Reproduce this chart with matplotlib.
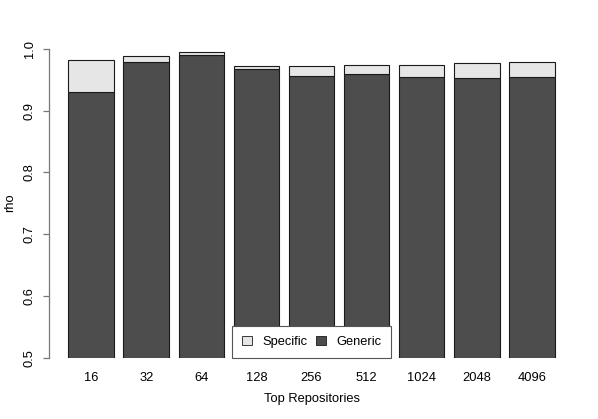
import numpy as np
import matplotlib.pyplot as plt

plt.rcParams['font.family'] = ['Liberation Sans', 'DejaVu Sans']

# data
repos = ['16', '32', '64', '128', '256', '512', '1024', '2048', '4096']
generic = [0.931, 0.979, 0.990, 0.968, 0.957, 0.960, 0.955, 0.953, 0.954]
total = [0.982, 0.989, 0.995, 0.973, 0.972, 0.974, 0.974, 0.977, 0.979]
specific = [t - g for t, g in zip(total, generic)]

GENERIC_COLOR = '#4d4d4d'
SPECIFIC_COLOR = '#e6e6e6'
EDGE = '#1a1a1a'

fig = plt.figure(figsize=(5.98, 4.19), dpi=100)
ax = fig.add_axes([49 / 598, 61.3 / 419, (574 - 49) / 598, (357.7 - 49) / 419])

# R-style barplot positions: width 1, space 0.2
x = 0.7 + 1.2 * np.arange(len(repos))
ax.bar(x, generic, width=1.0, color=GENERIC_COLOR, edgecolor=EDGE, linewidth=0.8)
ax.bar(x, specific, width=1.0, bottom=generic, color=SPECIFIC_COLOR,
       edgecolor=EDGE, linewidth=0.8)

ax.set_xlim(-0.224, 11.224)
ax.set_ylim(0.5, 1.0)

for side in ('top', 'right', 'bottom'):
    ax.spines[side].set_visible(False)
ax.spines['left'].set_position(('data', -0.224))
ax.spines['left'].set_color('#777777')
ax.spines['left'].set_linewidth(0.9)

ax.set_yticks([0.5, 0.6, 0.7, 0.8, 0.9, 1.0])
ax.set_yticklabels(['0.5', '0.6', '0.7', '0.8', '0.9', '1.0'])
ax.tick_params(axis='y', length=4.5, width=0.9, color='#777777', pad=5,
               labelsize=9.3, labelrotation=90)
for lab in ax.get_yticklabels():
    lab.set_va('center')

ax.set_xticks(x)
ax.set_xticklabels(repos)
ax.tick_params(axis='x', length=0, pad=10, labelsize=9.3)

ax.set_xlabel('Top Repositories', fontsize=9.3, labelpad=7)
fig.text(10 / 598, 1 - 203 / 419, 'rho', rotation=90, fontsize=9.3,
         ha='center', va='center')

leg = ax.legend(
    handles=[plt.Rectangle((0, 0), 1, 1, facecolor=SPECIFIC_COLOR, edgecolor=EDGE, linewidth=0.6),
             plt.Rectangle((0, 0), 1, 1, facecolor=GENERIC_COLOR, edgecolor=EDGE, linewidth=0.6)],
    labels=['Specific', 'Generic'], ncol=2, loc='lower center',
    bbox_to_anchor=(0.5, 0.0), borderaxespad=0, fontsize=9.3, fancybox=False,
    framealpha=1, handlelength=0.75, handleheight=0.75, columnspacing=0.7,
    handletextpad=0.8, borderpad=0.75)
leg.get_frame().set_edgecolor('#555555')
leg.get_frame().set_linewidth(0.8)

fig.savefig('out.png', dpi=100)
